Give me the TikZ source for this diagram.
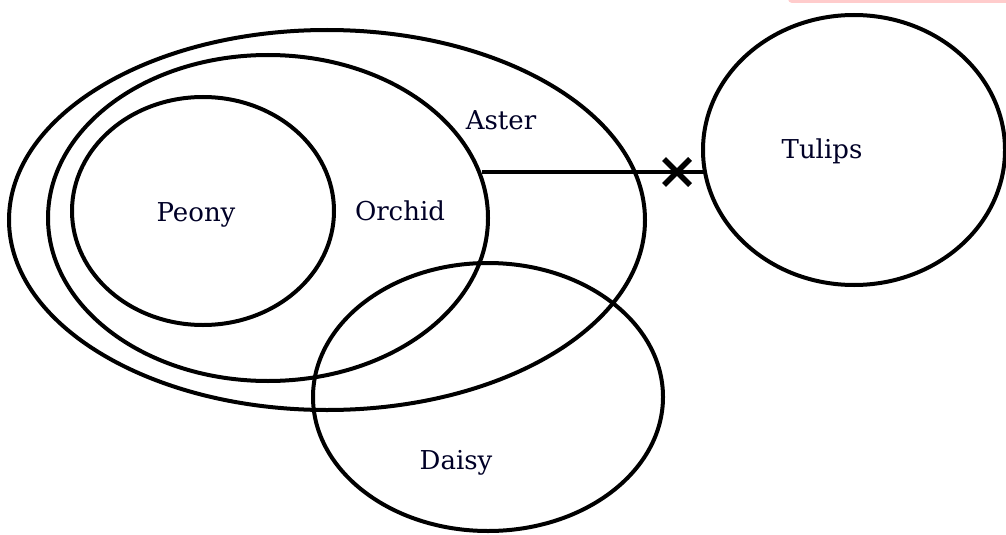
\documentclass[tikz,border=0pt]{standalone}
\usepackage{fontspec}
\setmainfont{DejaVu Serif}
\usetikzlibrary{calc}
\begin{document}
\begin{tikzpicture}[x=0.75pt,y=-0.75pt,
  setring/.style={draw=black,line width=3pt},
  lbl/.style={font=\fontsize{19.5}{22}\selectfont,text=black!85!blue},
  link/.style={draw=black,line width=3pt}]
\useasboundingbox (0,0) rectangle (1006,535);
\fill[red!20,rounded corners=3pt] (788,-10) rectangle (1016,3);
% sets
\draw[setring] (327,220) ellipse [x radius=318, y radius=190];
\draw[setring] (268,218) ellipse [x radius=220, y radius=163];
\draw[setring] (203,211) ellipse [x radius=131, y radius=114];
\draw[setring] (854,150) ellipse [x radius=151, y radius=135];
\draw[setring] (488,397) ellipse [x radius=175, y radius=134];
% labels
\node[lbl] (aster) at (501,120) {Aster};
\node[lbl] (orchid) at (400,211) {Orchid};
\node[lbl] (peony) at (196,215) {Peony};
\node[lbl] (tulips) at (822,151) {Tulips};
\node[lbl] (daisy) at (456,463) {Daisy};
% connector
\coordinate (orchidR) at (482,172);
\coordinate (tulipsL) at (704,172);
\coordinate (cross) at (677,172);
\draw[link] (orchidR) -- (tulipsL);
\draw[line width=4pt] ($(cross)+(-13,-13)$) -- ($(cross)+(13,13)$);
\draw[line width=4pt] ($(cross)+(-13,13)$) -- ($(cross)+(13,-13)$);
\end{tikzpicture}
\end{document}
